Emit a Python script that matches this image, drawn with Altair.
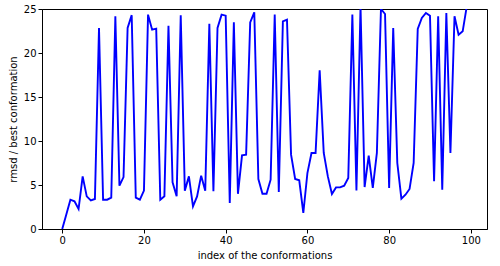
import altair as alt
import pandas as pd

rmsd = [
    0.0, 1.65, 3.33, 3.14, 2.27, 5.98, 3.71, 3.26, 3.41, 22.84,
    3.33, 3.33, 3.56, 24.17, 4.92, 5.9, 22.84, 24.3, 3.56, 3.33,
    4.36, 24.36, 22.65, 22.77, 3.33, 3.71, 23.1, 5.3, 3.71, 24.28,
    4.36, 5.98, 2.58, 3.71, 6.06, 4.36, 23.33, 4.28, 22.84, 24.36,
    24.24, 2.95, 23.5, 4.0, 8.37, 8.45, 23.48, 24.62, 5.68, 4.0,
    4.0, 5.6, 24.36, 4.2, 23.6, 23.8, 8.45, 5.68, 5.53, 1.82,
    6.36, 8.64, 8.64, 18.03, 8.64, 5.98, 3.98, 4.73, 4.73, 4.92,
    5.8, 24.36, 4.39, 25.3, 4.77, 8.33, 4.66, 8.64, 25.0, 24.43,
    4.66, 22.84, 7.5, 3.45, 3.9, 4.55, 7.5, 22.73, 23.98, 24.55,
    24.24, 5.42, 24.17, 4.47, 24.55, 8.64, 24.17, 22.08, 22.46, 25.3,
]
index = list(range(len(rmsd)))

df = pd.DataFrame({"index": index, "rmsd": rmsd})

font = "DejaVu Sans"

chart = (
    alt.Chart(df)
    .mark_line(color="#0000ff", strokeWidth=1.9, clip=True)
    .encode(
        x=alt.X(
            "index:Q",
            scale=alt.Scale(domain=[-4.95, 103.95], nice=False, zero=False),
            axis=alt.Axis(
                values=[0, 20, 40, 60, 80, 100],
                title="index of the conformations",
            ),
        ),
        y=alt.Y(
            "rmsd:Q",
            scale=alt.Scale(domain=[0, 25], nice=False),
            axis=alt.Axis(
                values=[0, 5, 10, 15, 20, 25],
                title="rmsd / best conformation",
            ),
        ),
    )
    .properties(
        width=445,
        height=220,
        padding={"left": 42, "top": 9, "right": 13, "bottom": 37},
        autosize=alt.AutoSizeParams(type="none"),
    )
    .configure_view(stroke="#000000", strokeWidth=1)
    .configure_axis(
        grid=False,
        domainColor="#000000",
        domainWidth=1,
        tickColor="#000000",
        tickSize=4,
        tickWidth=1,
        labelFont=font,
        labelFontSize=10,
        labelColor="#000000",
        labelPadding=2,
        titleFont=font,
        titleFontSize=10,
        titleFontWeight="normal",
        titleColor="#000000",
        titlePadding=5,
    )
)

chart.save("out.html", embed_options={"renderer": "svg", "actions": False})
